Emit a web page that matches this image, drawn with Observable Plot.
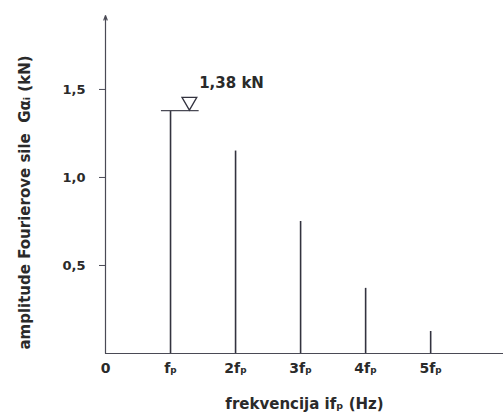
<!DOCTYPE html>
<html>
<head>
<meta charset="utf-8">
<script src="https://cdn.jsdelivr.net/npm/d3@7"></script>
<script src="https://cdn.jsdelivr.net/npm/@observablehq/plot@0.6"></script>
<style>
  html, body { margin: 0; padding: 0; background: #fff; }
</style>
</head>
<body>
<div id="chart"></div>
<script>
const harmonics = [1, 2, 3, 4, 5];
const amplitudes = [1.38, 1.15, 0.75, 0.37, 0.125];
const xTickValues = [0, 1, 2, 3, 4, 5];
const xTickLabels = ["0", "fₚ", "2fₚ", "3fₚ", "4fₚ", "5fₚ"];
const yTickValues = [0.5, 1.0, 1.5];
const peakLabel = "1,38 kN";
const xTitle = "frekvencija ifₚ (Hz)";
const yTitle = "amplitude Fourierove sile  Gαᵢ (kN)";

const data = harmonics.map((h, i) => ({h, a: amplitudes[i]}));
const peak = data[0];
const axisColor = "#4a4a55";
const barColor = "#33333f";

const chart = Plot.plot({
  width: 503,
  height: 420,
  marginLeft: 105,
  marginRight: 0,
  marginTop: 15,
  marginBottom: 67,
  x: {domain: [0, 6.12]},
  y: {domain: [0, 1.92]},
  style: {fontFamily: "DejaVu Sans", fontWeight: "bold", color: "#2a2a2a", background: "#fff"},
  marks: [
    Plot.ruleY([0], {stroke: axisColor, strokeWidth: 1.2}),
    Plot.arrow([0], {x1: 0, y1: 0, x2: 0, y2: 1.92, stroke: axisColor, strokeWidth: 1.2, headLength: 6, headAngle: 40}),
    Plot.axisY({ticks: yTickValues, tickFormat: d => d.toFixed(1).replace(".", ","), tickSize: 6, tickPadding: 14, fontSize: 13, stroke: axisColor, label: null}),
    Plot.axisX({ticks: xTickValues, tickFormat: (d, i) => xTickLabels[i], tickSize: 0, tickPadding: 10, fontSize: 14, label: null}),
    Plot.ruleX(data, {x: "h", y1: 0, y2: "a", stroke: barColor, strokeWidth: 1.6}),
    Plot.ruleY([peak], {y: "a", x1: d => d.h - 0.14, x2: d => d.h + 0.44, stroke: axisColor, strokeWidth: 1.2}),
    Plot.dot([peak], {x: d => d.h + 0.29, y: "a", symbol: "triangle", rotate: 180, r: 5.5, dy: -9, fill: "#fff", stroke: barColor, strokeWidth: 1.3}),
    Plot.text([peak], {x: d => d.h + 0.44, y: "a", text: () => peakLabel, textAnchor: "start", dy: -27, fontSize: 15}),
    Plot.text([xTitle], {frameAnchor: "bottom", dy: 55, fontSize: 15}),
    Plot.text([yTitle], {frameAnchor: "left", textAnchor: "middle", rotate: -90, dx: -80, dy: 18, fontSize: 15})
  ]
});
document.getElementById("chart").appendChild(chart);
</script>
</body>
</html>
